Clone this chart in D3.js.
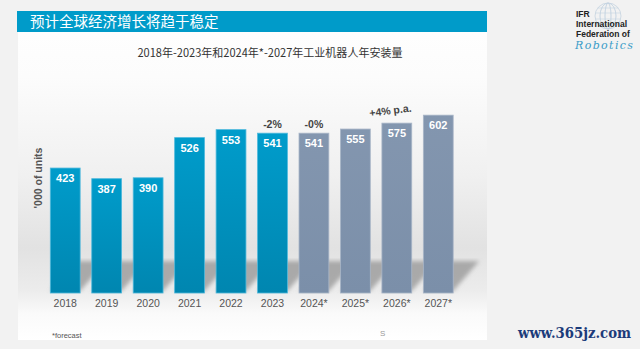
<!DOCTYPE html>
<html><head><meta charset="utf-8">
<script src="https://cdn.jsdelivr.net/npm/d3@7"></script>
<style>body{margin:0;background:#f2f2f2;}svg{display:block;}</style>
</head><body>
<script>
const years = ["2018","2019","2020","2021","2022","2023","2024*","2025*","2026*","2027*"];
const installs = [423,387,390,526,553,541,541,555,575,602];
const forecast = [false,false,false,false,false,false,true,true,true,true];
const growthNotes = [{year:"2023",text:"-2%"},{year:"2024*",text:"-0%"}];
const trendNote = "+4% p.a.";
const titleText = "预计全球经济增长将趋于稳定";
const subtitleText = "2018年-2023年和2024年*-2027年工业机器人年安装量";
const yLabel = "'000 of units";

const W=640,H=349;
const svg=d3.select("body").append("svg").attr("width",W).attr("height",H);
const defs=svg.append("defs");
const pg=defs.append("linearGradient").attr("id","panel").attr("x1",0).attr("x2",0).attr("y1",0).attr("y2",1);
[[0,"#ffffff"],[0.2,"#fcfcfc"],[0.5,"#f0f0f0"],[0.72,"#e2e2e2"],[0.85,"#ececec"],[0.92,"#fafafa"],[1,"#ffffff"]].forEach(s=>pg.append("stop").attr("offset",s[0]).attr("stop-color",s[1]));
const bg=defs.append("linearGradient").attr("id","blueBar").attr("x1",0).attr("x2",0).attr("y1",0).attr("y2",1);
bg.append("stop").attr("offset",0).attr("stop-color","#009ccb");
bg.append("stop").attr("offset",1).attr("stop-color","#0086b0");
const gg=defs.append("linearGradient").attr("id","greyBar").attr("x1",0).attr("x2",0).attr("y1",0).attr("y2",1);
gg.append("stop").attr("offset",0).attr("stop-color","#8396af");
gg.append("stop").attr("offset",1).attr("stop-color","#7b8fa9");
defs.append("filter").attr("id","blur").append("feGaussianBlur").attr("stdDeviation",2);

// panel
svg.append("rect").attr("x",18).attr("y",11).attr("width",469).attr("height",329).attr("fill","url(#panel)");
svg.append("rect").attr("x",17).attr("y",11).attr("width",470).attr("height",21).attr("fill","#009bc9");
svg.append("text").attr("x",30).attr("y",27).attr("fill","#fff").attr("font-family","Noto Sans CJK SC").attr("font-size",14.5).text(titleText);
svg.append("text").attr("x",270).attr("y",57).attr("text-anchor","middle").attr("fill","#333")
  .attr("font-family","'Noto Sans CJK SC'").attr("font-size",11.5).attr("textLength",265).attr("lengthAdjust","spacingAndGlyphs").text(subtitleText);

const x=d3.scaleBand().domain(years).range([44.5,459]).paddingInner(0.28).paddingOuter(0.14);
const y=d3.scaleLinear().domain([0,700]).range([293,86.2]);
const bw=x.bandwidth();

// shadows
svg.append("g").attr("filter","url(#blur)").selectAll("path").data(years).join("path")
  .attr("d",d=>{const x0=x(d),b=y(0)-2;return `M${x0},${b} L${x0+bw},${b} L${x0+bw+26},${b-30} L${x0+26},${b-30} Z`;})
  .attr("fill","#8f8f8f").attr("opacity",0.7);

svg.append("g").selectAll("rect").data(years).join("rect")
  .attr("x",d=>x(d)).attr("y",(d,i)=>y(installs[i])).attr("width",bw).attr("height",(d,i)=>y(0)-y(installs[i]))
  .attr("fill",(d,i)=>forecast[i]?"url(#greyBar)":"url(#blueBar)")
  .attr("stroke",(d,i)=>forecast[i]?"#a9b6c8":"#4fb9dc").attr("stroke-width",0.8);

svg.append("g").selectAll("text").data(years).join("text")
  .attr("x",d=>x(d)+bw/2).attr("y",(d,i)=>y(installs[i])+14).attr("text-anchor","middle")
  .attr("fill","#fff").attr("font-family","Arial, 'Liberation Sans'").attr("font-weight","bold").attr("font-size",11)
  .text((d,i)=>installs[i]);

const xAxis=svg.append("g").attr("transform",`translate(0,${y(0)})`).call(d3.axisBottom(x).tickSize(0).tickPadding(7));
xAxis.select(".domain").remove();
xAxis.selectAll("text").attr("fill","#555").attr("font-family","Arial, 'Liberation Sans'").attr("font-size",10.5);

svg.append("text").attr("transform",`translate(42,178) rotate(-90)`).attr("text-anchor","middle")
  .attr("fill","#555").attr("font-family","Arial, 'Liberation Sans'").attr("font-weight","bold").attr("font-size",10.5).text(yLabel);

growthNotes.forEach(n=>{
  const i=years.indexOf(n.year);
  svg.append("text").attr("x",x(n.year)+bw/2).attr("y",y(installs[i])-5).attr("text-anchor","middle")
    .attr("fill","#444").attr("font-family","Arial, 'Liberation Sans'").attr("font-weight","bold").attr("font-size",10.5).text(n.text);
});
svg.append("text").attr("transform",`translate(${x("2026*")+bw/2-6},${y(installs[8])-9}) rotate(-7)`).attr("text-anchor","middle")
  .attr("fill","#444").attr("font-family","Arial, 'Liberation Sans'").attr("font-weight","bold").attr("font-size",10.5).text(trendNote);

svg.append("text").attr("x",52).attr("y",338).attr("fill","#555").attr("font-family","Arial, 'Liberation Sans'").attr("font-size",7.5).text("*forecast");
svg.append("text").attr("x",380).attr("y",336).attr("fill","#999").attr("font-family","Arial, 'Liberation Sans'").attr("font-size",8).text("S");

// IFR logo
const logo=svg.append("g");
const gx=608,gy=16,gr=13;
logo.append("circle").attr("cx",gx).attr("cy",gy).attr("r",gr).attr("fill","none").attr("stroke","#c5d3e0").attr("stroke-width",0.8);
[-8,-3,3,8].forEach(o=>logo.append("ellipse").attr("cx",gx).attr("cy",gy).attr("rx",Math.abs(o)).attr("ry",gr).attr("fill","none").attr("stroke","#c5d3e0").attr("stroke-width",0.6));
[-8,-3,3,8].forEach(o=>{const hw=Math.sqrt(gr*gr-o*o);logo.append("line").attr("x1",gx-hw).attr("x2",gx+hw).attr("y1",gy+o).attr("y2",gy+o).attr("stroke","#c5d3e0").attr("stroke-width",0.6);});
[["IFR",17],["International",27],["Federation of",37]].forEach(t=>logo.append("text").attr("x",576).attr("y",t[1]).attr("fill","#222").attr("font-family","Arial, 'Liberation Sans'").attr("font-weight","bold").attr("font-size",8.5).text(t[0]));
logo.append("text").attr("x",575).attr("y",49).attr("fill","#3a9cc8").attr("font-family","'DejaVu Serif'").attr("font-style","italic").attr("font-size",11).attr("textLength",58).text("Robotics");

svg.append("text").attr("x",518).attr("y",338).attr("fill","#1c3b7a").attr("font-family","'DejaVu Serif'").attr("font-weight","bold").attr("font-size",14).attr("textLength",113).attr("lengthAdjust","spacingAndGlyphs").text("www.365jz.com");
</script>
</body></html>
